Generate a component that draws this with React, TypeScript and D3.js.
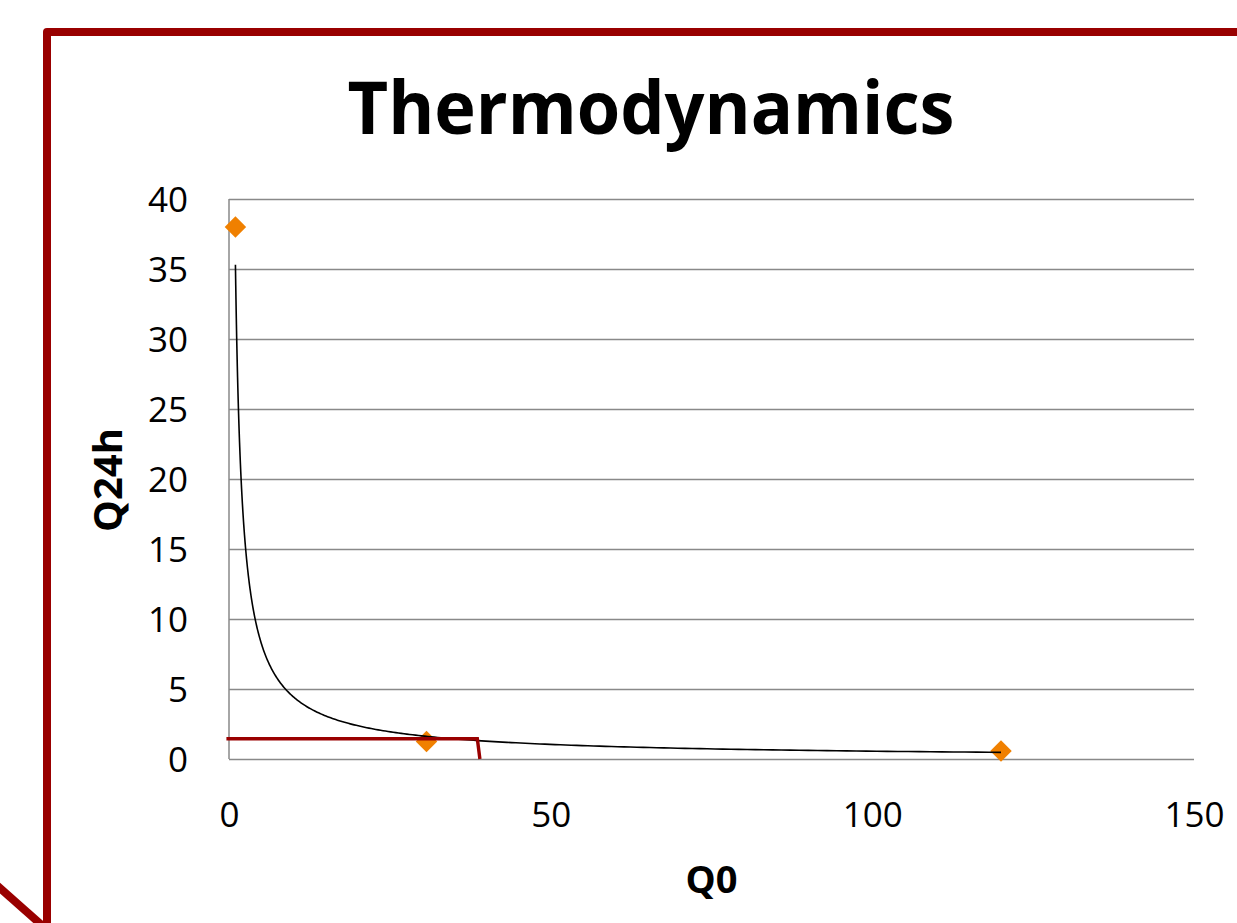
import React, { useEffect, useRef } from 'react';
import * as d3 from 'd3';

// measured points (Q0, Q24h)
const q0 = [1, 30.7, 120];
const q24h = [38, 1.25, 0.57];

// red marker drawn on the chart by hand
const markerQ0 = [-0.4, 38.6, 39];
const markerQ24h = [1.45, 1.45, 0];

const xTicks = [0, 50, 100, 150];
const yTicks = [0, 5, 10, 15, 20, 25, 30, 35, 40];

const W = 1237;
const H = 923;
const FONT = '"Open Sans", "Noto Sans", sans-serif';
const RED = '#990000';
const GRID = '#898989';

export default function App() {
  const ref = useRef<SVGSVGElement>(null);

  useEffect(() => {
    const svg = d3.select(ref.current);
    svg.selectAll('*').remove();

    const margin = { top: 199, right: 43, bottom: 164, left: 229 };
    const width = W - margin.left - margin.right;
    const height = H - margin.top - margin.bottom;

    const x = d3.scaleLinear().domain([0, 150]).range([0, width]);
    const y = d3.scaleLinear().domain([0, 40]).range([height, 0]);

    // frame around the slide
    svg.append('path')
      .attr('d', `M47,${H + 10} L47,32 L${W + 10},32`)
      .attr('fill', 'none')
      .attr('stroke', RED)
      .attr('stroke-width', 8)
      .attr('stroke-linejoin', 'round');
    svg.append('line')
      .attr('x1', -8).attr('y1', 881)
      .attr('x2', 45).attr('y2', 928)
      .attr('stroke', RED)
      .attr('stroke-width', 8);

    // title
    svg.append('text')
      .attr('x', 651)
      .attr('y', 134)
      .attr('text-anchor', 'middle')
      .attr('font-family', FONT)
      .attr('font-weight', 700)
      .attr('font-size', 74)
      .attr('textLength', 607)
      .attr('lengthAdjust', 'spacingAndGlyphs')
      .text('Thermodynamics');

    const g = svg.append('g')
      .attr('transform', `translate(${margin.left},${margin.top})`);

    // y axis with gridlines
    const yAxis = g.append('g')
      .call(d3.axisLeft(y).tickValues(yTicks).tickSize(-width).tickPadding(41).tickFormat(d3.format('d')));
    yAxis.select('.domain').remove();
    yAxis.selectAll('line').attr('stroke', GRID).attr('stroke-width', 1.5);
    yAxis.selectAll('text')
      .attr('font-family', FONT)
      .attr('font-size', 35)
      .attr('fill', '#000')
      .attr('dy', '0.36em');

    // x axis labels only
    const xAxis = g.append('g')
      .attr('transform', `translate(0,${height})`)
      .call(d3.axisBottom(x).tickValues(xTicks).tickSize(0).tickPadding(43).tickFormat(d3.format('d')));
    xAxis.select('.domain').remove();
    xAxis.selectAll('text')
      .attr('font-family', FONT)
      .attr('font-size', 35)
      .attr('fill', '#000');

    // left axis line
    g.append('line')
      .attr('x1', 0).attr('x2', 0)
      .attr('y1', 0).attr('y2', height)
      .attr('stroke', GRID)
      .attr('stroke-width', 1.5);

    // axis titles
    g.append('text')
      .attr('x', width / 2)
      .attr('y', height + 134)
      .attr('text-anchor', 'middle')
      .attr('font-family', FONT)
      .attr('font-weight', 700)
      .attr('font-size', 38)
      .text('Q0');
    g.append('text')
      .attr('transform', `translate(${122 - margin.left},${480 - margin.top}) rotate(-90)`)
      .attr('text-anchor', 'middle')
      .attr('font-family', FONT)
      .attr('font-weight', 700)
      .attr('font-size', 40)
      .text('Q24h');

    // power trendline y = a * x^b, least squares in log space
    const pts = q0.map((d, i) => ({ x: d, y: q24h[i] }));
    const lx = pts.map((p) => Math.log(p.x));
    const ly = pts.map((p) => Math.log(p.y));
    const mx = d3.mean(lx) as number;
    const my = d3.mean(ly) as number;
    const b = d3.sum(lx, (v, i) => (v - mx) * (ly[i] - my)) / d3.sum(lx, (v) => (v - mx) ** 2);
    const a = Math.exp(my - b * mx);
    const x0 = d3.min(q0) as number;
    const x1 = d3.max(q0) as number;
    const trend = d3.range(0, 301).map((i) => {
      const xv = x0 * Math.pow(x1 / x0, i / 300);
      return { x: xv, y: a * Math.pow(xv, b) };
    });
    const line = d3.line<{ x: number; y: number }>()
      .x((d) => x(d.x))
      .y((d) => y(d.y));

    // data points
    g.selectAll('.pt')
      .data(pts)
      .enter()
      .append('path')
      .attr('class', 'pt')
      .attr('d', d3.symbol().type(d3.symbolSquare).size(230)())
      .attr('transform', (d) => `translate(${x(d.x)},${y(d.y)}) rotate(45)`)
      .attr('fill', '#F08000');

    g.append('path')
      .datum(trend)
      .attr('d', line)
      .attr('fill', 'none')
      .attr('stroke', '#000')
      .attr('stroke-width', 1.6);

    // red marker, drawn over everything
    const marker = markerQ0.map((d, i) => ({ x: d, y: markerQ24h[i] }));
    g.append('path')
      .datum(marker)
      .attr('d', line)
      .attr('fill', 'none')
      .attr('stroke', RED)
      .attr('stroke-width', 3.4);
  }, []);

  return (
    <svg
      ref={ref}
      width={W}
      height={H}
      style={{ position: 'absolute', left: 0, top: 0, background: '#fff' }}
    />
  );
}
